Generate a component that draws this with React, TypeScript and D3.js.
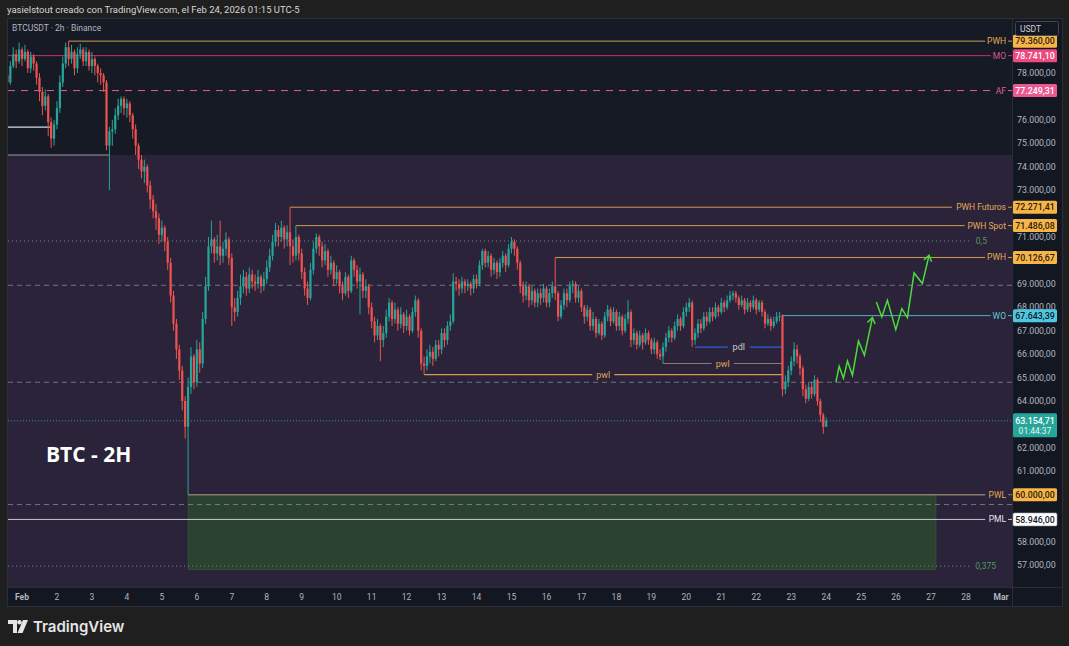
import React from "react";
import * as d3 from "d3";

const W = 1069;
const H = 646;

// ---------- data ----------
const dayTicks = [0, 1, 2, 3, 4, 5, 6, 7, 8, 9, 10, 11, 12, 13, 14, 15, 16, 17, 18, 19, 20, 21, 22, 23, 24, 25, 26, 27, 28];
const dayLabels = ["Feb", "2", "3", "4", "5", "6", "7", "8", "9", "10", "11", "12", "13", "14", "15", "16", "17", "18", "19", "20", "21", "22", "23", "24", "25", "26", "27", "28", "Mar"];
const priceTicks = [57000, 58000, 59000, 60000, 61000, 62000, 63000, 64000, 65000, 66000, 67000, 68000, 69000, 70000, 71000, 72000, 73000, 74000, 75000, 76000, 77000, 78000, 79000];

// 2h candles, time in days from Feb 1 00:00; values in thousands USDT: [close, high, low]
const firstCandleDay = -5 / 12;
const candleStepDays = 1 / 12;
const firstOpen = 77.9;
const candlesCHL: [number, number, number][] = [
  [77.6, 78.1, 77.2], [78.3, 78.5, 77.5], [78.8, 79.1, 78.2], [78.5, 79.0, 78.2], [79.0, 79.3, 78.4], [78.6, 79.1, 78.3], [78.9, 79.2, 78.5], [78.2, 79.0, 78.0], [78.7, 78.9, 78.0], [78.4, 78.8, 78.1],
  [77.8, 78.5, 77.5], [77.2, 78.0, 76.8], [76.6, 77.4, 76.2], [77.0, 77.3, 76.4], [75.9, 77.1, 75.3], [75.2, 76.1, 74.8], [75.8, 76.0, 74.9], [76.5, 76.8, 75.6], [77.6, 77.9, 76.3], [78.4, 78.7, 77.4],
  [79.1, 79.3, 78.2], [78.6, 79.36, 78.3], [78.9, 79.2, 78.4], [78.2, 79.0, 77.9], [78.8, 79.1, 78.0], [79.0, 79.25, 78.6], [78.5, 79.1, 78.3], [78.9, 79.1, 78.3], [78.3, 79.0, 78.1], [78.6, 78.9, 78.0],
  [78.3, 78.7, 77.9], [78.0, 78.4, 77.6], [77.9, 78.2, 77.5], [77.6, 78.0, 77.2], [74.9, 77.7, 74.7], [75.5, 75.7, 73.0], [75.6, 76.0, 74.9], [76.2, 76.5, 75.4], [76.6, 76.9, 76.0], [76.9, 77.0, 76.3],
  [76.5, 77.0, 76.2], [76.7, 76.9, 76.1], [76.2, 76.8, 75.9], [75.6, 76.3, 75.2], [74.9, 75.8, 74.5], [74.3, 75.0, 73.9], [73.8, 74.5, 73.5], [74.0, 74.3, 73.3], [73.2, 74.1, 72.9], [72.6, 73.4, 72.2],
  [72.1, 72.8, 71.8], [71.8, 72.4, 71.3], [71.1, 72.0, 70.7], [71.4, 71.7, 70.8], [70.8, 71.5, 70.4], [69.9, 71.0, 69.6], [68.5, 70.1, 68.2], [67.3, 68.7, 67.0], [66.2, 67.5, 65.8], [65.3, 66.4, 64.9],
  [64.0, 65.5, 63.6], [62.9, 64.2, 62.4], [64.6, 65.0, 60.0], [65.9, 66.3, 64.3], [64.8, 66.0, 64.5], [66.2, 66.6, 64.6], [65.6, 66.5, 65.2], [67.5, 67.8, 65.4], [68.9, 69.3, 67.3], [70.6, 71.0, 68.7],
  [70.9, 71.7, 70.3], [70.3, 71.0, 69.9], [70.6, 71.1, 70.0], [70.2, 71.7, 69.8], [70.5, 70.8, 69.9], [70.9, 71.2, 70.2], [70.1, 71.0, 69.8], [68.0, 70.3, 67.2], [67.8, 68.4, 67.4], [68.4, 68.7, 67.6],
  [68.9, 69.4, 68.1], [69.3, 69.6, 68.6], [68.8, 69.5, 68.5], [69.4, 69.7, 68.6], [69.1, 69.6, 68.8], [69.0, 69.4, 68.7], [69.3, 69.6, 68.8], [68.9, 69.4, 68.6], [69.2, 69.5, 68.7], [69.7, 70.0, 69.0],
  [70.2, 70.5, 69.5], [70.8, 71.1, 70.0], [71.3, 71.6, 70.6], [71.0, 71.5, 70.6], [71.4, 71.7, 70.8], [70.9, 71.5, 70.5], [71.2, 71.5, 70.6], [70.6, 72.27, 69.8], [70.2, 70.9, 69.9], [71.0, 71.49, 70.0],
  [70.3, 71.1, 70.0], [69.5, 70.5, 69.2], [68.8, 69.7, 68.5], [68.4, 69.1, 68.1], [69.6, 69.9, 68.3], [70.5, 70.8, 69.4], [71.0, 71.15, 70.3], [70.6, 71.1, 70.2], [70.0, 70.8, 69.7], [70.4, 70.7, 69.8],
  [69.6, 70.5, 69.3], [69.9, 70.2, 69.4], [69.2, 70.0, 68.9], [69.5, 69.8, 69.0], [68.9, 69.6, 68.6], [68.6, 69.1, 68.3], [69.3, 69.5, 68.5], [68.7, 69.4, 68.4], [70.0, 70.2, 68.6], [69.6, 70.1, 69.3],
  [69.1, 69.8, 68.8], [69.4, 69.7, 67.7], [68.7, 69.5, 68.4], [68.9, 69.2, 68.4], [68.0, 69.0, 67.7], [67.4, 68.2, 67.1], [66.8, 67.6, 66.5], [67.2, 67.5, 66.6], [66.6, 67.3, 65.7], [66.9, 67.2, 66.3],
  [67.6, 67.9, 66.7], [68.2, 68.4, 67.4], [67.5, 68.3, 67.2], [67.9, 68.2, 67.3], [67.3, 68.0, 67.0], [67.7, 68.0, 67.1], [67.2, 67.8, 66.9], [67.6, 67.9, 67.0], [67.0, 67.7, 66.8], [67.8, 68.0, 66.9],
  [68.3, 68.5, 67.6], [67.0, 68.4, 66.7], [65.6, 67.1, 65.3], [65.5, 65.9, 65.13], [65.9, 66.2, 65.3], [66.1, 66.4, 65.6], [65.8, 66.3, 65.5], [66.4, 66.6, 65.7], [66.2, 66.6, 65.9], [66.9, 67.1, 66.0],
  [66.6, 67.1, 66.3], [67.2, 67.4, 66.4], [67.4, 67.7, 67.0], [69.1, 69.45, 67.3], [69.0, 69.3, 68.7], [68.8, 69.2, 68.5], [69.1, 69.3, 68.6], [68.9, 69.2, 68.6], [69.0, 69.2, 68.7], [68.8, 69.1, 68.5],
  [69.2, 69.4, 68.6], [69.0, 69.4, 68.8], [69.8, 70.0, 68.9], [70.4, 70.5, 69.6], [69.9, 70.5, 69.7], [70.2, 70.4, 69.7], [69.6, 70.3, 69.3], [69.9, 70.1, 69.4], [69.5, 70.0, 69.2], [69.9, 70.1, 69.3],
  [70.2, 70.4, 69.7], [69.8, 70.3, 69.5], [70.5, 70.7, 69.7], [70.8, 71.0, 70.3], [70.5, 70.9, 70.2], [69.9, 70.6, 69.6], [68.9, 70.0, 68.6], [68.5, 69.1, 68.2], [68.9, 69.1, 68.3], [68.3, 69.0, 68.0],
  [68.7, 68.9, 68.1], [68.2, 68.8, 68.0], [68.6, 68.8, 68.0], [68.4, 68.8, 68.1], [68.8, 69.0, 68.2], [68.2, 68.9, 68.0], [68.6, 68.8, 68.0], [68.9, 69.1, 68.4], [68.6, 70.13, 68.3], [67.6, 68.7, 67.4],
  [68.1, 68.3, 67.5], [68.6, 68.8, 67.9], [68.3, 68.8, 68.0], [68.9, 69.1, 68.2], [69.0, 69.15, 68.6], [68.4, 69.1, 68.2], [68.7, 68.9, 68.2], [68.0, 68.8, 67.8], [67.6, 68.1, 67.3], [67.9, 68.1, 67.4],
  [67.2, 68.0, 67.0], [67.5, 67.8, 67.0], [66.9, 67.6, 66.7], [67.3, 67.5, 66.8], [66.8, 67.4, 66.6], [67.6, 67.8, 66.7], [67.9, 68.1, 67.4], [67.4, 68.0, 67.2], [67.8, 68.0, 67.3], [67.2, 67.9, 67.0],
  [67.6, 67.8, 67.0], [67.0, 67.7, 66.8], [67.5, 67.7, 66.9], [67.8, 68.3, 67.3], [66.6, 67.9, 66.3], [66.9, 67.1, 66.4], [66.4, 67.0, 66.2], [66.8, 67.0, 66.3], [66.5, 66.9, 66.2], [66.9, 67.1, 66.4],
  [66.6, 67.0, 66.4], [66.2, 66.7, 66.0], [66.5, 66.7, 66.0], [66.0, 66.6, 65.8], [65.9, 66.2, 65.75], [66.3, 66.5, 65.6], [66.7, 66.9, 66.1], [67.0, 67.2, 66.5], [66.7, 67.1, 66.5], [67.2, 67.4, 66.6],
  [67.5, 67.7, 67.0], [67.2, 67.6, 67.0], [67.8, 68.0, 67.1], [68.0, 68.2, 67.6], [68.2, 68.4, 67.8], [66.6, 68.3, 66.3], [66.9, 67.1, 66.4], [67.3, 67.5, 66.7], [67.1, 67.5, 66.9], [67.6, 67.8, 67.0],
  [67.4, 67.8, 67.2], [67.8, 68.0, 67.3], [67.6, 68.0, 67.4], [68.0, 68.2, 67.5], [67.8, 68.1, 67.6], [68.2, 68.4, 67.7], [68.0, 68.3, 67.8], [68.3, 68.5, 67.9], [68.5, 68.7, 68.2], [68.6, 68.7, 68.3],
  [68.4, 68.7, 68.2], [68.1, 68.5, 67.9], [68.3, 68.5, 68.0], [67.9, 68.4, 67.7], [68.2, 68.4, 67.8], [68.0, 68.3, 67.8], [68.3, 68.5, 67.9], [67.9, 68.4, 67.7], [68.2, 68.3, 67.8], [67.8, 68.3, 67.6],
  [67.3, 67.9, 67.1], [67.5, 67.7, 67.2], [67.2, 67.6, 67.0], [67.4, 67.6, 67.1], [67.6, 67.8, 67.3], [67.64, 67.8, 67.4], [64.5, 67.7, 64.2], [64.8, 65.1, 64.3], [65.3, 65.5, 64.6], [65.7, 65.9, 65.1],
  [66.2, 66.5, 65.5], [65.9, 66.4, 65.6], [65.4, 66.0, 65.1], [64.5, 65.5, 64.2], [64.1, 64.7, 63.9], [64.6, 64.8, 64.0], [64.3, 64.8, 64.1], [64.9, 65.1, 64.2], [64.0, 65.0, 63.8], [63.4, 64.1, 63.1],
  [62.9, 63.5, 62.6], [63.15, 63.3, 62.9],
];

const currentPrice = 63154.71;
const countdown = "01:44:37";

// tagged horizontal levels (price, start day or null = from left edge)
const taggedLevels = [
  { label: "PWH", price: 79360, from: 1.333, kind: "orange" },
  { label: "MO", price: 78741.1, from: null, kind: "mo" },
  { label: "AF", price: 77249.31, from: null, kind: "af" },
  { label: "PWH Futuros", price: 72271.41, from: 7.667, kind: "orange" },
  { label: "PWH Spot", price: 71486.08, from: 7.833, kind: "orange" },
  { label: "PWH", price: 70126.67, from: 15.25, kind: "orange" },
  { label: "WO", price: 67643.39, from: 21.75, kind: "wo" },
  { label: "PWL", price: 60000, from: 4.75, kind: "pwl" },
  { label: "PML", price: 58946, from: null, kind: "pml" },
];

// short inline-labelled lines
const inlineLevels = [
  { label: "pdl", price: 66300, from: 19.25, to: 21.75, kind: "pdl" },
  { label: "pwl", price: 65600, from: 18.333, to: 21.75, kind: "pwl2" },
  { label: "pwl", price: 65130, from: 11.5, to: 21.75, kind: "pwl1" },
];

// unlabelled short lines from left edge
const leftLines = [
  { price: 75690, to: 0.8, color: "#d8dae0" },
  { price: 74500, to: 2.5, color: "#9a9ca6" },
];

const dashedLevels = [68940, 64800, 59580];
const fibLevels = [
  { label: "0,5", price: 70830 },
  { label: "0,375", price: 56950 },
];

const greenZone = { from: 4.75, to: 26.14, top: 60000, bottom: 56800 };
const purpleZoneTop = 74500;

const zigzag1: [number, number][] = [
  [23.277, 64808], [23.371, 65479], [23.494, 64966], [23.609, 65705], [23.751, 65094], [23.923, 66560], [24.094, 65949], [24.323, 67560],
];
const zigzag2: [number, number][] = [
  [24.437, 68226], [24.591, 67585], [24.751, 68299], [24.991, 67047], [25.163, 67944], [25.323, 67560], [25.514, 69466], [25.751, 69013], [25.943, 70222],
];

// ---------- style ----------
const C = {
  page: "#1f1f1f",
  plot: "#161a25",
  axis: "#131722",
  border: "#2a2e39",
  purple: "#2a2339",
  up: "#26a69a",
  down: "#ef5350",
  axisText: "#b2b5be",
};

const kindStyle: Record<string, { line: string; text: string; box: string; boxText: string; dash?: string }> = {
  orange: { line: "#cf9d50", text: "#e3a957", box: "#f6b546", boxText: "#2b210f" },
  mo: { line: "#c2336f", text: "#cf5a8e", box: "#ee4a80", boxText: "#ffffff" },
  af: { line: "#e0609a", text: "#e0609a", box: "#ec5892", boxText: "#ffffff", dash: "7,6" },
  wo: { line: "#4fb3c6", text: "#66c6d9", box: "#4fc6e2", boxText: "#0f1a20" },
  pwl: { line: "#8c7b66", text: "#e3a957", box: "#f6b546", boxText: "#2b210f" },
  pml: { line: "#c8cad2", text: "#e6e8ee", box: "#ffffff", boxText: "#131722" },
  pdl: { line: "#2f5fd8", text: "#c8cad2", box: "", boxText: "" },
  pwl2: { line: "#8c7b6a", text: "#e0a354", box: "", boxText: "" },
  pwl1: { line: "#d39a4c", text: "#e0a354", box: "", boxText: "" },
};

const locale = d3.formatLocale({ decimal: ",", thousands: ".", grouping: [3], currency: ["", ""] });
const fmtPrice = locale.format(",.2f");

const FONT = "Roboto, 'Noto Sans', 'DejaVu Sans', sans-serif";

function textWidth(s: string, size: number) {
  let w = 0;
  for (const ch of s) {
    if (ch === " ") w += 0.26;
    else if (/[A-Z]/.test(ch)) w += 0.66;
    else if (/[0-9]/.test(ch)) w += 0.56;
    else if (/[,.]/.test(ch)) w += 0.25;
    else w += 0.5;
  }
  return w * size;
}

export default function App() {
  const plotL = 8, plotR = 1012, plotT = 19, plotB = 587;
  const x = d3.scaleLinear().domain([0, 28]).range([22, 1001]);
  const y = d3.scaleLinear().domain([57000, 78000]).range([565, 73]);

  const candles = candlesCHL.map((r, i) => {
    const o = (i === 0 ? firstOpen : candlesCHL[i - 1][0]) * 1000;
    const c = r[0] * 1000;
    const h = Math.max(r[1] * 1000, o, c);
    const l = Math.min(r[2] * 1000, o, c);
    return { t: firstCandleDay + i * candleStepDays, o, h, l, c };
  });

  const tagYs = [...taggedLevels.map((l) => y(l.price)), y(currentPrice) + 4];
  const visibleTicks = priceTicks.filter((p) => {
    const yy = y(p);
    if (yy < plotT + 4 || yy > plotB - 4) return false;
    return tagYs.every((ty) => Math.abs(ty - yy) >= 8);
  });

  const line = d3.line<[number, number]>().x((d) => x(d[0])).y((d) => y(d[1]));
  const labelEnd = 1006;
  const labelSize = 8.5;

  const arrowHead = (pts: [number, number][]) => {
    const [a, b] = pts.slice(-2);
    const x1 = x(a[0]), y1 = y(a[1]), x2 = x(b[0]), y2 = y(b[1]);
    const ang = Math.atan2(y2 - y1, x2 - x1);
    const L = 7;
    const p1 = [x2 - L * Math.cos(ang - 0.6), y2 - L * Math.sin(ang - 0.6)];
    const p2 = [x2 - L * Math.cos(ang + 0.6), y2 - L * Math.sin(ang + 0.6)];
    return `M${p1[0]},${p1[1]}L${x2},${y2}L${p2[0]},${p2[1]}`;
  };

  return (
    <div style={{ position: "fixed", left: 0, top: 0, width: W, height: H }}>
      <svg width={W} height={H} style={{ display: "block", fontFamily: FONT }}>
        <defs>
          <clipPath id="plotClip">
            <rect x={plotL} y={plotT} width={plotR - plotL} height={plotB - plotT} />
          </clipPath>
        </defs>
        <rect x={0} y={0} width={W} height={H} fill={C.page} />
        <text x={7} y={13} fontSize={9.5} fill="#d6d6d6">
          yasielstout creado con TradingView.com, el Feb 24, 2026 01:15 UTC-5
        </text>

        {/* frame */}
        <rect x={7.5} y={18.5} width={1055} height={588} fill={C.axis} stroke={C.border} />
        <rect x={plotL} y={plotT} width={plotR - plotL} height={plotB - plotT} fill={C.plot} />

        <g clipPath="url(#plotClip)">
          {/* purple zone */}
          <rect x={plotL} y={y(purpleZoneTop)} width={plotR - plotL} height={plotB - y(purpleZoneTop)} fill={C.purple} />
          {/* green zone */}
          <rect
            x={x(greenZone.from)}
            y={y(greenZone.top)}
            width={x(greenZone.to) - x(greenZone.from)}
            height={y(greenZone.bottom) - y(greenZone.top)}
            fill="#2c4231"
            stroke="#3b5a3f"
            strokeWidth={0.6}
          />

          {/* dashed & fib levels */}
          {dashedLevels.map((p, i) => (
            <line key={"d" + i} x1={plotL} x2={plotR} y1={y(p)} y2={y(p)} stroke="#8d8f9c" strokeWidth={1} strokeDasharray="5,4" opacity={0.75} />
          ))}
          {fibLevels.map((f, i) => {
            const end = i === 0 ? 987 : 996;
            const tw = textWidth(f.label, 8.5);
            return (
              <g key={"f" + i}>
                <line x1={plotL} x2={end - tw - 4} y1={y(f.price)} y2={y(f.price)} stroke="#6d8d84" strokeWidth={1} strokeDasharray="1,3" />
                <text x={end} y={y(f.price) + 3} fontSize={8.5} fill="#4f9a5e" textAnchor="end">{f.label}</text>
              </g>
            );
          })}
          {/* current price dotted */}
          <line x1={plotL} x2={plotR} y1={y(currentPrice)} y2={y(currentPrice)} stroke={C.up} strokeWidth={1} strokeDasharray="1,2" opacity={0.9} />

          {/* left short lines */}
          {leftLines.map((l, i) => (
            <line key={"l" + i} x1={plotL} x2={x(l.to)} y1={y(l.price)} y2={y(l.price)} stroke={l.color} strokeWidth={1.2} />
          ))}

          {/* tagged level lines */}
          {taggedLevels.map((lv, i) => {
            const st = kindStyle[lv.kind];
            const tw = textWidth(lv.label, labelSize);
            const x1 = lv.from === null ? plotL : x(lv.from);
            const yy = y(lv.price);
            return (
              <g key={"t" + i}>
                <line x1={x1} x2={labelEnd - tw - 4} y1={yy} y2={yy} stroke={st.line} strokeWidth={lv.kind === "pwl" ? 1.6 : 1} strokeDasharray={st.dash} />
                <line x1={labelEnd + 2} x2={plotR} y1={yy} y2={yy} stroke={st.line} strokeWidth={1} />
                <text x={labelEnd} y={yy + 3} fontSize={labelSize} fill={st.text} textAnchor="end">{lv.label}</text>
              </g>
            );
          })}

          {/* inline labelled lines */}
          {inlineLevels.map((lv, i) => {
            const st = kindStyle[lv.kind];
            const x1 = x(lv.from), x2 = x(lv.to);
            const mid = (x1 + x2) / 2;
            const yy = y(lv.price);
            return (
              <g key={"i" + i}>
                <line x1={x1} x2={mid - 11} y1={yy} y2={yy} stroke={st.line} strokeWidth={1.2} />
                <line x1={mid + 11} x2={x2} y1={yy} y2={yy} stroke={st.line} strokeWidth={1.2} />
                <text x={mid} y={yy + 3} fontSize={9} fill={st.text} textAnchor="middle">{lv.label}</text>
              </g>
            );
          })}

          {/* candles */}
          {candles.map((d, i) => {
            const cx = x(d.t);
            const col = d.c >= d.o ? C.up : C.down;
            const top = y(Math.max(d.o, d.c));
            const bh = Math.max(1, Math.abs(y(d.o) - y(d.c)));
            return (
              <g key={"c" + i}>
                <line x1={cx} x2={cx} y1={y(d.h)} y2={y(d.l)} stroke={col} strokeWidth={1} />
                <rect x={cx - 1.1} y={top} width={2.2} height={bh} fill={col} />
              </g>
            );
          })}

          {/* projection zigzags */}
          {[zigzag1, zigzag2].map((z, i) => (
            <g key={"z" + i}>
              <path d={line(z) || ""} fill="none" stroke="#4cdb3a" strokeWidth={1.5} strokeLinejoin="miter" />
              <path d={arrowHead(z)} fill="none" stroke="#4cdb3a" strokeWidth={1.5} />
            </g>
          ))}

          <text x={46} y={462} fontSize={21} fontWeight={700} fill="#ffffff" fontFamily="'Open Sans', 'Noto Sans', sans-serif">
            BTC - 2H
          </text>
        </g>

        <text x={12} y={31} fontSize={8.5} fill={C.axisText}>BTCUSDT · 2h · Binance</text>

        {/* axes separators */}
        <line x1={plotR + 0.5} x2={plotR + 0.5} y1={plotT} y2={606} stroke={C.border} />
        <line x1={plotL} x2={1063} y1={plotB + 0.5} y2={plotB + 0.5} stroke={C.border} />

        {/* price axis ticks */}
        {visibleTicks.map((p) => (
          <text key={"p" + p} x={1017} y={y(p) + 3} fontSize={8.8} fill={C.axisText}>{fmtPrice(p)}</text>
        ))}

        {/* time axis */}
        {dayTicks.map((d, i) => (
          <text
            key={"x" + d}
            x={x(d)}
            y={600}
            fontSize={8.5}
            fill={C.axisText}
            textAnchor="middle"
            fontWeight={i === 0 || i === dayTicks.length - 1 ? 700 : 400}
          >
            {dayLabels[i]}
          </text>
        ))}

        {/* tags on price axis */}
        {taggedLevels.map((lv, i) => {
          const st = kindStyle[lv.kind];
          const yy = y(lv.price);
          return (
            <g key={"tag" + i}>
              <rect x={1013} y={yy - 6.5} width={44} height={13} rx={1.5} fill={st.box} stroke={lv.kind === "pml" ? "#9598a1" : "none"} strokeWidth={0.6} />
              <text x={1035} y={yy + 3.2} fontSize={8.8} fill={st.boxText} textAnchor="middle" fontWeight={500}>{fmtPrice(lv.price)}</text>
            </g>
          );
        })}
        {/* current price tag */}
        <g>
          <rect x={1013} y={y(currentPrice) - 7.5} width={44} height={24} rx={1.5} fill={C.up} />
          <text x={1035} y={y(currentPrice) + 3} fontSize={8.8} fill="#ffffff" textAnchor="middle" fontWeight={500}>{fmtPrice(currentPrice)}</text>
          <text x={1035} y={y(currentPrice) + 13.5} fontSize={8.5} fill="#e8f5f3" textAnchor="middle">{countdown}</text>
        </g>

        {/* currency box */}
        <rect x={1015.5} y={21.5} width={43} height={14} rx={2} fill="#131722" stroke="#434651" />
        <text x={1020} y={31.5} fontSize={8.5} fill="#d1d4dc">USDT</text>

        {/* TradingView logo */}
        <g fill="#e6e6e6">
          <path d="M8,620 h9 v13 h-4 v-9 h-5 z" />
          <circle cx={19.5} cy={622.3} r={2.3} />
          <path d="M23,620 h5 l-5.5,13 h-5 z" />
        </g>
        <text x={33} y={632} fontSize={15} fontWeight={600} fill="#e6e6e6" fontFamily="Inter, Roboto, sans-serif">TradingView</text>
      </svg>
    </div>
  );
}
